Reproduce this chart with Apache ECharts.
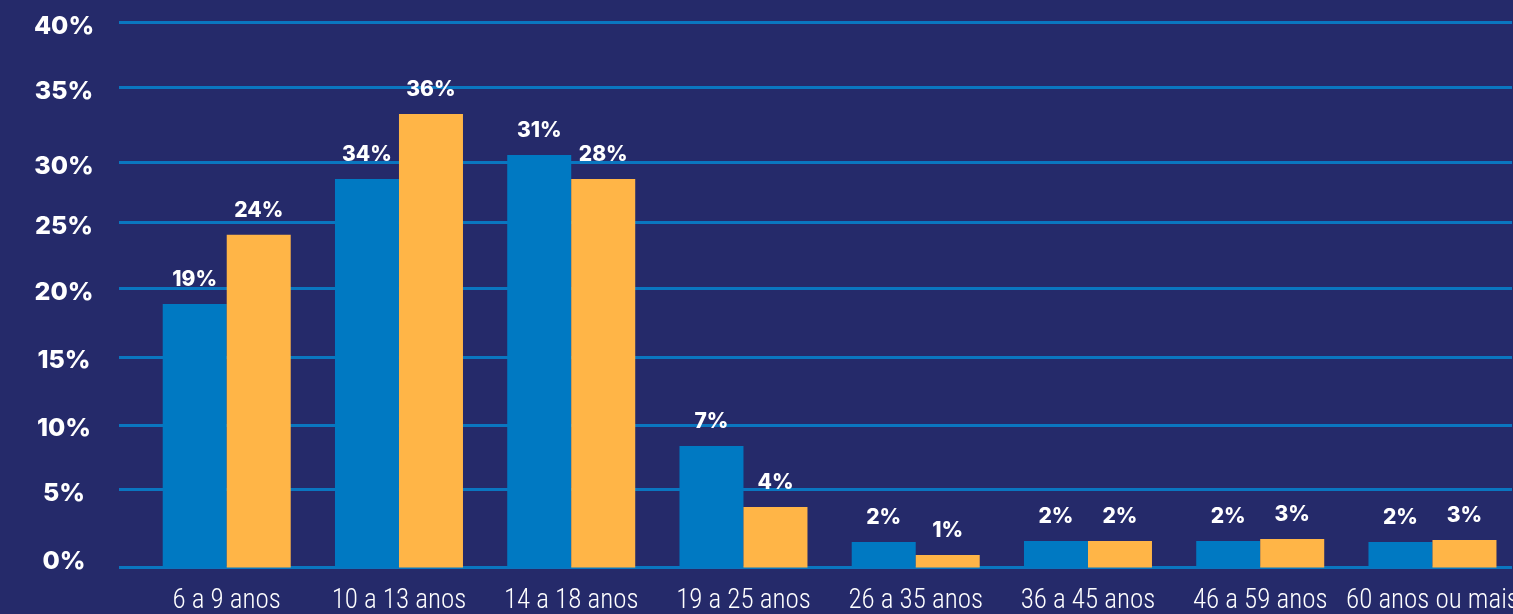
<!DOCTYPE html>
<html>
<head>
<meta charset="utf-8">
<script src="https://cdn.jsdelivr.net/npm/echarts@6/dist/echarts.min.js"></script>
<style>
  html, body { margin: 0; padding: 0; background: #252a6a; }
  #chart { width: 1513px; height: 614px; }
</style>
</head>
<body>
<div id="chart"></div>
<script>
// ---- data ----
const categories = ['6 a 9 anos', '10 a 13 anos', '14 a 18 anos', '19 a 25 anos', '26 a 35 anos', '36 a 45 anos', '46 a 59 anos', '60 anos ou mais'];
// bar heights as drawn in the picture
const blueValues = [19.35, 28.52, 30.29, 8.92, 1.87, 1.95, 1.95, 1.87];
const orangeValues = [24.43, 33.30, 28.52, 4.44, 0.92, 1.95, 2.09, 2.02];
// printed labels above bars
const blueLabels = ['19%', '34%', '31%', '7%', '2%', '2%', '2%', '2%'];
const orangeLabels = ['24%', '36%', '28%', '4%', '1%', '2%', '3%', '3%'];
// gridline levels as drawn and their tick labels
const tickLevels = [0, 5.74, 10.48, 15.46, 20.50, 25.35, 29.75, 35.26, 40];
const tickLabels = ['0%', '5%', '10%', '15%', '20%', '25%', '30%', '35%', '40%'];

const BG = '#252a6a';
const BLUE = '#0079c2';
const ORANGE = '#ffb547';
const GRID = '#0a76c0';
const BOLD_FONT = 'Inter, "Open Sans", sans-serif';

const chart = echarts.init(document.getElementById('chart'), null, { renderer: 'canvas' });

const barLabel = (labels) => ({
  show: true,
  position: 'top',
  distance: 14,
  color: '#ffffff',
  fontFamily: BOLD_FONT,
  fontWeight: 800,
  fontSize: 21,
  formatter: (p) => labels[p.dataIndex]
});

chart.setOption({
  backgroundColor: BG,
  animation: false,
  grid: [
    { left: 119, right: 1, top: 22.7, bottom: 46.5, outerBoundsMode: 'none', containLabel: false },
    { left: 140.6, width: 1378, top: 22.7, bottom: 46.5, outerBoundsMode: 'none', containLabel: false }
  ],
  xAxis: [
    { gridIndex: 0, type: 'value', show: false, min: 0, max: 1 },
    {
      gridIndex: 1,
      type: 'category',
      data: categories,
      axisLine: { show: false },
      axisTick: { show: false },
      axisLabel: {
        color: '#ffffff',
        fontFamily: 'Roboto, "DejaVu Sans Condensed", sans-serif',
        fontWeight: '300 condensed',
        fontSize: 27,
        margin: 20,
        interval: 0
      }
    }
  ],
  yAxis: [
    {
      gridIndex: 0,
      type: 'value',
      min: 0,
      max: 40,
      axisLine: { show: false },
      axisTick: { show: false, customValues: tickLevels },
      splitLine: { show: true, lineStyle: { color: GRID, width: 3 } },
      axisLabel: {
        customValues: tickLevels,
        align: 'center',
        margin: 55,
        formatter: (v) => {
          const i = tickLevels.findIndex(t => Math.abs(t - v) < 1e-6);
          if (i < 0) return '';
          return i === 0 ? '{a|' + tickLabels[i] + '}\n{z| }' : '{s| }\n{a|' + tickLabels[i] + '}';
        },
        rich: {
          a: { color: '#ffffff', fontFamily: BOLD_FONT, fontWeight: 800, fontSize: 25, lineHeight: 25, align: 'center' },
          s: { fontSize: 1, lineHeight: 8 },
          z: { fontSize: 1, lineHeight: 13 }
        }
      }
    },
    { gridIndex: 1, type: 'value', min: 0, max: 40, show: false, splitLine: { show: false } }
  ],
  series: [
    {
      name: 'Série 1',
      type: 'bar',
      xAxisIndex: 1,
      yAxisIndex: 1,
      data: blueValues,
      barWidth: 64,
      barGap: '0%',
      itemStyle: { color: BLUE },
      label: barLabel(blueLabels)
    },
    {
      name: 'Série 2',
      type: 'bar',
      xAxisIndex: 1,
      yAxisIndex: 1,
      data: orangeValues,
      barWidth: 64,
      barGap: '0%',
      itemStyle: { color: ORANGE },
      label: barLabel(orangeLabels)
    }
  ]
});
</script>
</body>
</html>
